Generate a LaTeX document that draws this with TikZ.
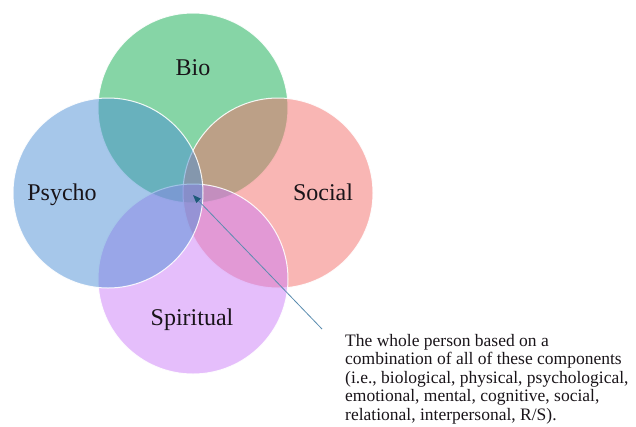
\documentclass[tikz,border=0pt]{standalone}
\usepackage{fontspec}
\setmainfont{Liberation Serif}
\usetikzlibrary{arrows.meta}
% base colours, blended at half opacity
\definecolor{biogreen}{RGB}{13,171,77}
\definecolor{socialred}{RGB}{243,109,105}
\definecolor{spiritviolet}{RGB}{203,125,247}
\definecolor{psychoblue}{RGB}{77,143,213}
\definecolor{textdark}{RGB}{25,20,25}
\definecolor{pointerblue}{RGB}{90,140,175}
\definecolor{pointertip}{RGB}{30,90,120}
\begin{document}
\begin{tikzpicture}[x=1pt,y=-1pt,
  lifecircle/.style={circle, minimum size=190pt, inner sep=0pt, outer sep=0pt,
    draw=white, line width=1pt, fill opacity=0.5, draw opacity=0.9},
  lifelabel/.style={font=\fontsize{24}{28}\selectfont, text=textdark,
    anchor=base, inner sep=0pt},
  note/.style={font=\fontsize{17.5}{18.5}\selectfont, align=left,
    anchor=north west, inner sep=0pt, text=textdark},
  pointer/.style={draw=pointerblue, line width=0.8pt,
    -{Triangle[length=8pt,width=6pt,color=pointertip]}}]
\useasboundingbox (0,0) rectangle (636,426);

% the four overlapping domains
\node[lifecircle, fill=biogreen]     (bio)      at (193,108) {};
\node[lifecircle, fill=socialred]    (social)   at (278,193) {};
\node[lifecircle, fill=spiritviolet] (spirit)   at (193,279) {};
\node[lifecircle, fill=psychoblue]   (psycho)   at (108,193) {};

% domain names
\node[lifelabel] (biotext)    at (193,75)  {Bio};
\node[lifelabel] (psychotext) at (62,200)  {Psycho};
\node[lifelabel] (socialtext) at (323,200) {Social};
\node[lifelabel] (spirittext) at (192,325) {Spiritual};

% explanatory note and its pointer to the common core
\node[note] (whole) at (345,334) {The whole person based on a\\
combination of all of these components\\
(i.e., biological, physical, psychological,\\
emotional, mental, cognitive, social,\\
relational, interpersonal, R/S).};
\coordinate (tail) at (322,329);
\coordinate (core) at (193,195);
\draw[pointer] (tail) -- (core);
\end{tikzpicture}
\end{document}
